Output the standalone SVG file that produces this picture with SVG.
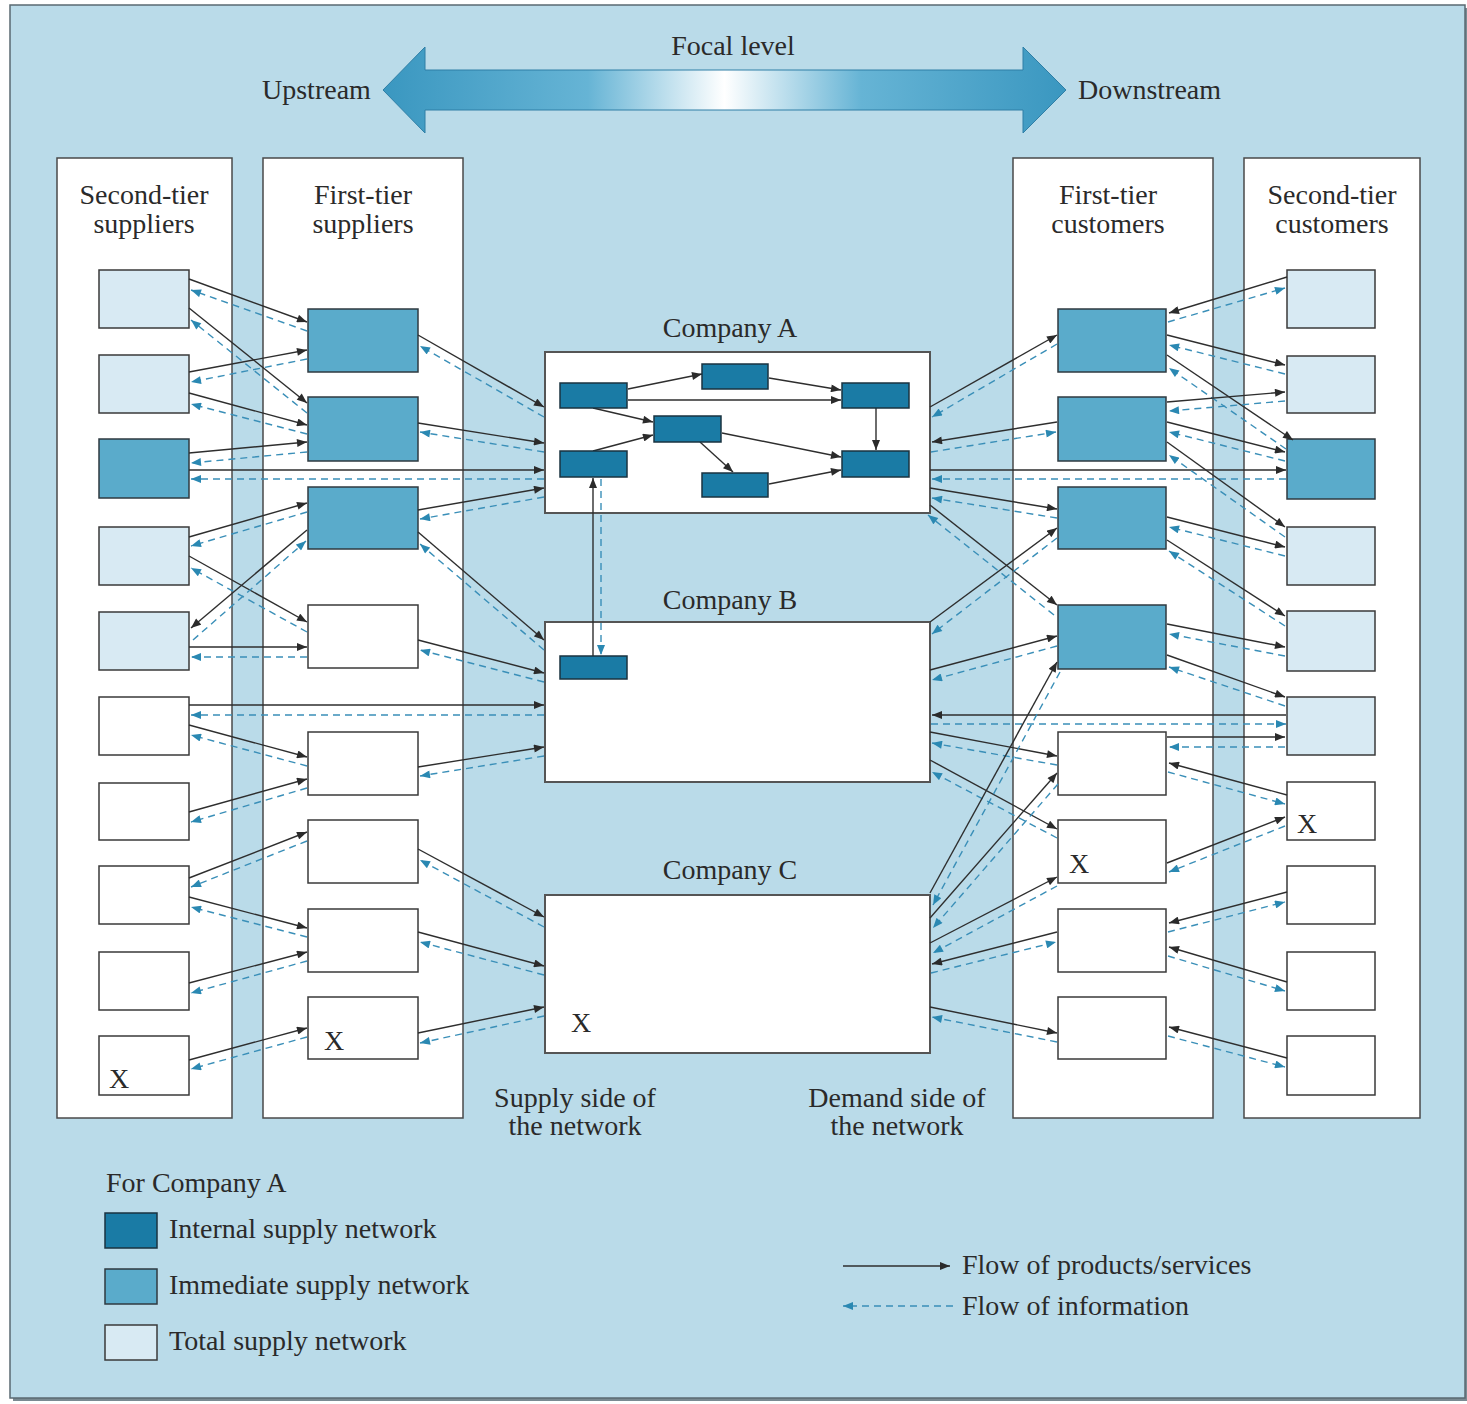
<svg xmlns="http://www.w3.org/2000/svg" width="1467" height="1404" viewBox="0 0 1467 1404">
<defs>
<style>
text{font-family:"Liberation Serif","Times New Roman",serif;font-size:28px;fill:#2a2a2a}
.t{text-anchor:middle}
.col{fill:#ffffff;stroke:#4a4a4a;stroke-width:1.5}
.co{fill:#ffffff;stroke:#555;stroke-width:2}
.w{fill:#ffffff;stroke:#3a3a3a;stroke-width:1.5}
.l{fill:#d8eaf3;stroke:#3a3a3a;stroke-width:1.5}
.m{fill:#5aabcb;stroke:#2f3a40;stroke-width:1.5}
.d{fill:#1a7ba5;stroke:#1a3340;stroke-width:1.5}
.p{stroke:#2e2e2e;stroke-width:1.4;fill:none;marker-end:url(#ap)}
.i{stroke:#3a8fb8;stroke-width:1.4;stroke-dasharray:7 5;fill:none;marker-end:url(#ai)}
</style>
<marker id="ap" viewBox="0 0 10 8" refX="10" refY="4" markerWidth="11" markerHeight="8" markerUnits="userSpaceOnUse" orient="auto"><path d="M0,0L10,4L0,8z" fill="#2b2b2b"/></marker>
<marker id="ai" viewBox="0 0 10 8" refX="10" refY="4" markerWidth="11" markerHeight="8" markerUnits="userSpaceOnUse" orient="auto"><path d="M0,0L10,4L0,8z" fill="#2a88b2"/></marker>
<linearGradient id="g" x1="383" y1="0" x2="1066" y2="0" gradientUnits="userSpaceOnUse">
<stop offset="0" stop-color="#3a97c0"/><stop offset="0.3" stop-color="#66b4d5"/><stop offset="0.5" stop-color="#ffffff"/><stop offset="0.7" stop-color="#66b4d5"/><stop offset="1" stop-color="#3a97c0"/>
</linearGradient>
</defs>
<rect x="0" y="0" width="1467" height="1404" fill="#ffffff"/>
<rect x="13" y="8" width="1455" height="1393" fill="#7a8a92"/>
<rect x="10" y="5" width="1455" height="1393" fill="#badbe9" stroke="#5a6a72" stroke-width="1.5"/>

<g id="focal-arrow">
<polygon points="383,90 425,47 425,70 1023,70 1023,47 1066,90 1023,133 1023,110 425,110 425,133" fill="url(#g)" stroke="#2f7fa6" stroke-width="1"/>
<text class="t" x="733" y="55">Focal level</text>
<text x="262" y="99">Upstream</text>
<text x="1078" y="99">Downstream</text>
</g>

<g id="columns">
<g id="col-second-tier-suppliers"><rect class="col" x="57" y="158" width="175" height="960"/><text class="t" x="144" y="204">Second-tier</text><text class="t" x="144" y="233">suppliers</text></g>
<g id="col-first-tier-suppliers"><rect class="col" x="263" y="158" width="200" height="960"/><text class="t" x="363" y="204">First-tier</text><text class="t" x="363" y="233">suppliers</text></g>
<g id="col-first-tier-customers"><rect class="col" x="1013" y="158" width="200" height="960"/><text class="t" x="1108" y="204">First-tier</text><text class="t" x="1108" y="233">customers</text></g>
<g id="col-second-tier-customers"><rect class="col" x="1244" y="158" width="176" height="960"/><text class="t" x="1332" y="204">Second-tier</text><text class="t" x="1332" y="233">customers</text></g>
</g>

<g id="company-a">
<text class="t" x="730" y="337">Company A</text>
<rect class="co" x="545" y="352" width="385" height="161"/>
<g id="company-a-internal-links">
<line class="p" x1="628" y1="389" x2="702" y2="374"/>
<line class="p" x1="769" y1="378" x2="841" y2="390"/>
<line class="p" x1="628" y1="400" x2="841" y2="400"/>
<line class="p" x1="593" y1="408" x2="653" y2="422"/>
<line class="p" x1="593" y1="451" x2="653" y2="435"/>
<line class="p" x1="722" y1="433" x2="841" y2="457"/>
<line class="p" x1="700" y1="442" x2="733" y2="472"/>
<line class="p" x1="769" y1="484" x2="841" y2="470"/>
<line class="p" x1="876" y1="408" x2="876" y2="450"/>
</g>
<rect id="a-int-1" class="d" x="560" y="383" width="67" height="25"/>
<rect id="a-int-2" class="d" x="702" y="364" width="66" height="25"/>
<rect id="a-int-3" class="d" x="842" y="383" width="67" height="25"/>
<rect id="a-int-4" class="d" x="654" y="416" width="67" height="26"/>
<rect id="a-int-5" class="d" x="560" y="451" width="67" height="26"/>
<rect id="a-int-6" class="d" x="702" y="473" width="66" height="24"/>
<rect id="a-int-7" class="d" x="842" y="451" width="67" height="26"/>
</g>

<g id="company-b">
<text class="t" x="730" y="609">Company B</text>
<rect class="co" x="545" y="622" width="385" height="160"/>
<rect id="b-int-1" class="d" x="560" y="656" width="67" height="23"/>
</g>

<g id="company-c">
<text class="t" x="730" y="879">Company C</text>
<rect class="co" x="545" y="895" width="385" height="158"/>
<text x="571" y="1032">X</text>
</g>

<g id="second-tier-suppliers">
<g id="s2-1"><rect class="l" x="99" y="270" width="90" height="58"/></g>
<g id="s2-2"><rect class="l" x="99" y="355" width="90" height="58"/></g>
<g id="s2-3"><rect class="m" x="99" y="439" width="90" height="59"/></g>
<g id="s2-4"><rect class="l" x="99" y="527" width="90" height="58"/></g>
<g id="s2-5"><rect class="l" x="99" y="612" width="90" height="58"/></g>
<g id="s2-6"><rect class="w" x="99" y="697" width="90" height="58"/></g>
<g id="s2-7"><rect class="w" x="99" y="783" width="90" height="57"/></g>
<g id="s2-8"><rect class="w" x="99" y="866" width="90" height="58"/></g>
<g id="s2-9"><rect class="w" x="99" y="952" width="90" height="58"/></g>
<g id="s2-10"><rect class="w" x="99" y="1036" width="90" height="59"/><text x="109" y="1088">X</text></g>
</g>

<g id="first-tier-suppliers">
<g id="s1-1"><rect class="m" x="308" y="309" width="110" height="63"/></g>
<g id="s1-2"><rect class="m" x="308" y="397" width="110" height="64"/></g>
<g id="s1-3"><rect class="m" x="308" y="487" width="110" height="62"/></g>
<g id="s1-4"><rect class="w" x="308" y="605" width="110" height="63"/></g>
<g id="s1-5"><rect class="w" x="308" y="732" width="110" height="63"/></g>
<g id="s1-6"><rect class="w" x="308" y="820" width="110" height="63"/></g>
<g id="s1-7"><rect class="w" x="308" y="909" width="110" height="63"/></g>
<g id="s1-8"><rect class="w" x="308" y="997" width="110" height="62"/><text x="324" y="1050">X</text></g>
</g>

<g id="first-tier-customers">
<g id="c1-1"><rect class="m" x="1058" y="309" width="108" height="63"/></g>
<g id="c1-2"><rect class="m" x="1058" y="397" width="108" height="64"/></g>
<g id="c1-3"><rect class="m" x="1058" y="487" width="108" height="62"/></g>
<g id="c1-4"><rect class="m" x="1058" y="605" width="108" height="64"/></g>
<g id="c1-5"><rect class="w" x="1058" y="732" width="108" height="63"/></g>
<g id="c1-6"><rect class="w" x="1058" y="820" width="108" height="63"/><text x="1069" y="873">X</text></g>
<g id="c1-7"><rect class="w" x="1058" y="909" width="108" height="63"/></g>
<g id="c1-8"><rect class="w" x="1058" y="997" width="108" height="62"/></g>
</g>

<g id="second-tier-customers">
<g id="c2-1"><rect class="l" x="1287" y="270" width="88" height="58"/></g>
<g id="c2-2"><rect class="l" x="1287" y="356" width="88" height="57"/></g>
<g id="c2-3"><rect class="m" x="1287" y="439" width="88" height="60"/></g>
<g id="c2-4"><rect class="l" x="1287" y="527" width="88" height="58"/></g>
<g id="c2-5"><rect class="l" x="1287" y="611" width="88" height="60"/></g>
<g id="c2-6"><rect class="l" x="1287" y="697" width="88" height="58"/></g>
<g id="c2-7"><rect class="w" x="1287" y="782" width="88" height="58"/><text x="1297" y="833">X</text></g>
<g id="c2-8"><rect class="w" x="1287" y="866" width="88" height="58"/></g>
<g id="c2-9"><rect class="w" x="1287" y="952" width="88" height="58"/></g>
<g id="c2-10"><rect class="w" x="1287" y="1036" width="88" height="59"/></g>
</g>

<g id="connectors">
<line class="p" x1="189" y1="279" x2="307" y2="322"/><line class="i" x1="307" y1="331" x2="191" y2="290"/>
<line class="p" x1="189" y1="308" x2="307" y2="403"/><line class="i" x1="307" y1="413" x2="191" y2="320"/>
<line class="p" x1="189" y1="372" x2="307" y2="350"/><line class="i" x1="307" y1="359" x2="191" y2="382"/>
<line class="p" x1="189" y1="393" x2="307" y2="425"/><line class="i" x1="307" y1="434" x2="191" y2="404"/>
<line class="p" x1="189" y1="453" x2="307" y2="442"/><line class="i" x1="307" y1="452" x2="191" y2="463"/>
<line class="p" x1="189" y1="470" x2="544" y2="470"/><line class="i" x1="544" y1="479" x2="191" y2="479"/>
<line class="p" x1="189" y1="537" x2="307" y2="503"/><line class="i" x1="307" y1="512" x2="191" y2="546"/>
<line class="p" x1="189" y1="556" x2="307" y2="622"/><line class="i" x1="307" y1="632" x2="191" y2="568"/>
<line class="p" x1="307" y1="530" x2="191" y2="628"/><line class="i" x1="193" y1="640" x2="306" y2="541"/>
<line class="p" x1="189" y1="647" x2="307" y2="647"/><line class="i" x1="307" y1="657" x2="191" y2="657"/>
<line class="p" x1="189" y1="705" x2="544" y2="705"/><line class="i" x1="544" y1="715" x2="191" y2="715"/>
<line class="p" x1="189" y1="725" x2="307" y2="757"/><line class="i" x1="307" y1="766" x2="191" y2="735"/>
<line class="p" x1="189" y1="812" x2="307" y2="779"/><line class="i" x1="307" y1="788" x2="191" y2="822"/>
<line class="p" x1="189" y1="878" x2="307" y2="832"/><line class="i" x1="307" y1="841" x2="191" y2="887"/>
<line class="p" x1="189" y1="897" x2="307" y2="928"/><line class="i" x1="307" y1="937" x2="191" y2="907"/>
<line class="p" x1="189" y1="983" x2="307" y2="952"/><line class="i" x1="307" y1="961" x2="191" y2="993"/>
<line class="p" x1="189" y1="1060" x2="307" y2="1028"/><line class="i" x1="307" y1="1037" x2="191" y2="1069"/>
<line class="p" x1="418" y1="335" x2="544" y2="407"/><line class="i" x1="544" y1="417" x2="420" y2="346"/>
<line class="p" x1="418" y1="423" x2="544" y2="443"/><line class="i" x1="544" y1="452" x2="420" y2="432"/>
<line class="p" x1="418" y1="510" x2="544" y2="488"/><line class="i" x1="544" y1="497" x2="420" y2="519"/>
<line class="p" x1="418" y1="532" x2="544" y2="640"/><line class="i" x1="544" y1="650" x2="420" y2="544"/>
<line class="p" x1="418" y1="640" x2="544" y2="673"/><line class="i" x1="544" y1="682" x2="420" y2="650"/>
<line class="p" x1="418" y1="767" x2="544" y2="747"/><line class="i" x1="544" y1="756" x2="420" y2="776"/>
<line class="p" x1="418" y1="849" x2="544" y2="917"/><line class="i" x1="544" y1="927" x2="420" y2="860"/>
<line class="p" x1="418" y1="932" x2="544" y2="966"/><line class="i" x1="544" y1="975" x2="420" y2="942"/>
<line class="p" x1="418" y1="1033" x2="544" y2="1007"/><line class="i" x1="544" y1="1016" x2="420" y2="1043"/>
<line class="p" x1="930" y1="407" x2="1057" y2="335"/><line class="i" x1="1057" y1="344" x2="932" y2="417"/>
<line class="p" x1="1057" y1="422" x2="932" y2="442"/><line class="i" x1="931" y1="452" x2="1056" y2="432"/>
<line class="p" x1="930" y1="470" x2="1286" y2="470"/><line class="i" x1="1286" y1="479" x2="932" y2="479"/>
<line class="p" x1="930" y1="488" x2="1057" y2="509"/><line class="i" x1="1057" y1="518" x2="932" y2="498"/>
<line class="p" x1="930" y1="505" x2="1057" y2="605"/><line class="i" x1="1054" y1="615" x2="928" y2="515"/>
<line class="p" x1="930" y1="622" x2="1057" y2="528"/><line class="i" x1="1057" y1="538" x2="932" y2="634"/>
<line class="p" x1="930" y1="670" x2="1057" y2="636"/><line class="i" x1="1057" y1="646" x2="932" y2="680"/>
<line class="p" x1="1286" y1="715" x2="932" y2="715"/><line class="i" x1="931" y1="724" x2="1286" y2="724"/>
<line class="p" x1="930" y1="732" x2="1057" y2="756"/><line class="i" x1="1057" y1="765" x2="932" y2="743"/>
<line class="p" x1="930" y1="760" x2="1057" y2="829"/><line class="i" x1="1057" y1="838" x2="932" y2="772"/>
<line class="p" x1="930" y1="893" x2="1057" y2="662"/><line class="i" x1="1060" y1="672" x2="933" y2="905"/>
<line class="p" x1="930" y1="918" x2="1057" y2="773"/><line class="i" x1="1058" y1="784" x2="933" y2="928"/>
<line class="p" x1="930" y1="943" x2="1057" y2="877"/><line class="i" x1="1057" y1="886" x2="933" y2="953"/>
<line class="p" x1="1057" y1="932" x2="932" y2="964"/><line class="i" x1="931" y1="973" x2="1056" y2="942"/>
<line class="p" x1="930" y1="1007" x2="1057" y2="1033"/><line class="i" x1="1057" y1="1042" x2="932" y2="1017"/>
<line class="p" x1="1287" y1="277" x2="1169" y2="313"/><line class="i" x1="1168" y1="322" x2="1285" y2="288"/>
<line class="p" x1="1167" y1="335" x2="1285" y2="365"/><line class="i" x1="1285" y1="374" x2="1169" y2="345"/>
<line class="p" x1="1167" y1="355" x2="1293" y2="440"/><line class="i" x1="1286" y1="449" x2="1169" y2="368"/>
<line class="p" x1="1167" y1="402" x2="1285" y2="392"/><line class="i" x1="1285" y1="401" x2="1169" y2="411"/>
<line class="p" x1="1167" y1="422" x2="1285" y2="452"/><line class="i" x1="1285" y1="461" x2="1169" y2="432"/>
<line class="p" x1="1167" y1="442" x2="1285" y2="527"/><line class="i" x1="1285" y1="537" x2="1169" y2="455"/>
<line class="p" x1="1167" y1="517" x2="1285" y2="547"/><line class="i" x1="1285" y1="556" x2="1169" y2="527"/>
<line class="p" x1="1167" y1="540" x2="1285" y2="616"/><line class="i" x1="1285" y1="626" x2="1169" y2="551"/>
<line class="p" x1="1167" y1="624" x2="1285" y2="647"/><line class="i" x1="1285" y1="656" x2="1169" y2="634"/>
<line class="p" x1="1167" y1="655" x2="1285" y2="697"/><line class="i" x1="1285" y1="706" x2="1169" y2="667"/>
<line class="p" x1="1167" y1="737" x2="1285" y2="737"/><line class="i" x1="1285" y1="747" x2="1169" y2="747"/>
<line class="p" x1="1287" y1="795" x2="1169" y2="763"/><line class="i" x1="1168" y1="772" x2="1285" y2="804"/>
<line class="p" x1="1167" y1="863" x2="1285" y2="817"/><line class="i" x1="1285" y1="826" x2="1169" y2="872"/>
<line class="p" x1="1287" y1="892" x2="1169" y2="923"/><line class="i" x1="1168" y1="932" x2="1285" y2="902"/>
<line class="p" x1="1287" y1="982" x2="1169" y2="947"/><line class="i" x1="1168" y1="956" x2="1285" y2="991"/>
<line class="p" x1="1287" y1="1058" x2="1169" y2="1027"/><line class="i" x1="1168" y1="1036" x2="1285" y2="1067"/>
<line class="p" x1="593" y1="656" x2="593" y2="478"/><line class="i" x1="601" y1="479" x2="601" y2="655"/>
</g>

<g id="side-labels">
<text class="t" x="575" y="1107">Supply side of</text>
<text class="t" x="575" y="1135">the network</text>
<text class="t" x="897" y="1107">Demand side of</text>
<text class="t" x="897" y="1135">the network</text>
</g>

<g id="legend">
<text x="106" y="1192">For Company A</text>
<rect class="d" x="105" y="1213" width="52" height="35"/>
<text x="169" y="1238">Internal supply network</text>
<rect class="m" x="105" y="1269" width="52" height="35"/>
<text x="169" y="1294">Immediate supply network</text>
<rect class="l" x="105" y="1325" width="52" height="35"/>
<text x="169" y="1350">Total supply network</text>
<line class="p" x1="843" y1="1266" x2="950" y2="1266"/>
<text x="962" y="1274">Flow of products/services</text>
<line class="i" x1="953" y1="1306" x2="843" y2="1306"/>
<text x="962" y="1315">Flow of information</text>
</g>
</svg>
